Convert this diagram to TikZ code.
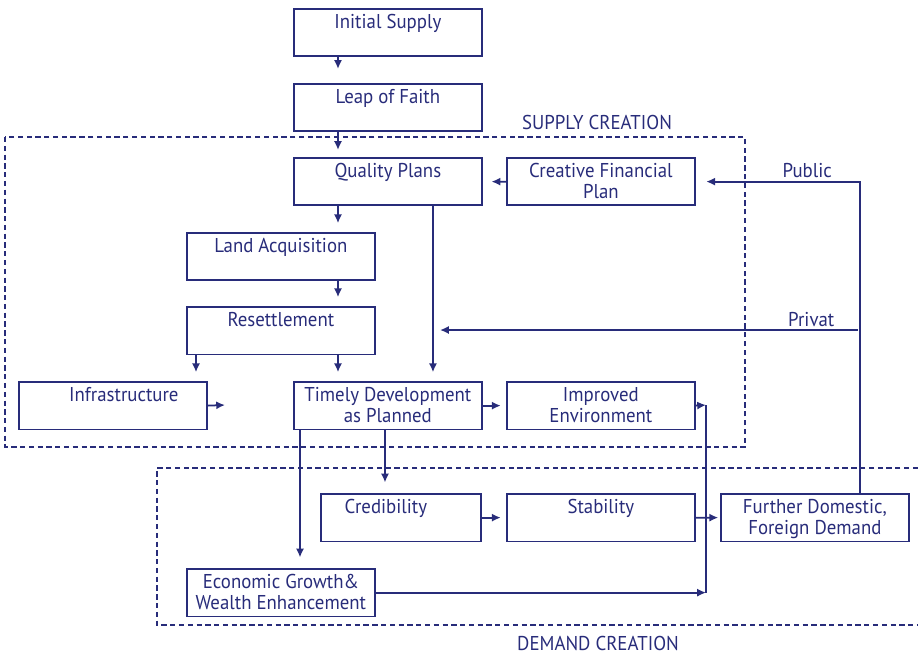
\documentclass[tikz,border=0pt]{standalone}
\usepackage{fontspec}
\setmainfont{PT Sans}[FakeStretch=0.94]
\usetikzlibrary{arrows.meta}
\definecolor{navy}{RGB}{40,44,122}

\begin{document}
\begin{tikzpicture}[x=0.02cm, y=-0.02cm, >={Latex[length=5pt,width=4.6pt]},
  every node/.style={font=\fontsize{11.4}{12}\selectfont, text=navy},
  box/.style={draw=navy, line width=1pt, anchor=north west, inner sep=0pt,
    minimum width=3.76cm, text height=0.4cm, text depth=0.55cm, align=center},
  box2/.style={box, text height=0.82cm, text depth=0.13cm},
  link/.style={->, draw=navy, line width=1pt},
  zone/.style={draw=navy, line width=0.8pt, dash pattern=on 3pt off 2pt}]
\useasboundingbox (0,0) rectangle (918,653);

% the two areas
\draw[zone] (5,137) rectangle (745,447);
\draw[zone] (918,468) -- (157,468) -- (157,625) -- (918,625);
\node (supplylbl) at (597,122) {SUPPLY CREATION};
\node (demandlbl) at (598,643) {DEMAND CREATION};

% boxes
\node[box] (init) at (293,8) {Initial Supply};
\node[box] (leap) at (293,83) {Leap of Faith};
\node[box] (qual) at (293,157) {Quality Plans};
\node[box2] (cfp) at (506,157) {Creative Financial\\Plan};
\node[box] (land) at (186,232) {Land Acquisition};
\node[box] (reset) at (186,306) {Resettlement};
\node[box] (infra) at (18,381) {\hspace*{0.44cm}Infrastructure};
\node[box2] (timely) at (293,381) {Timely Development\\as Planned};
\node[box2] (impr) at (506,381) {Improved\\Environment};
\node[box, minimum width=3.2cm] (cred) at (320,493) {Credibility\hspace*{0.6cm}};
\node[box] (stab) at (506,493) {Stability};
\node[box2] (fdd) at (720,493) {Further Domestic,\\Foreign Demand};
\node[box2] (econ) at (186,568) {Economic Growth\&\\Wealth Enhancement};

\coordinate (infraend) at (225,405);
\coordinate (qualdrop) at ([xshift=2.8cm]qual.south west);
\coordinate (bustop) at (706,405);
\coordinate (busbot) at (bustop |- econ.east);
\coordinate (split) at (858,330);

% supply side
\draw[link, shorten >=8pt] ([xshift=0.9cm]init.south west) -- ([xshift=0.9cm]leap.north west);
\draw[link, shorten >=4pt] ([xshift=0.9cm]leap.south west) -- ([xshift=0.9cm]qual.north west);
\draw[link, shorten >=5pt] ([xshift=0.9cm]qual.south west) -- ([xshift=0.9cm]qual.south west |- land.north);
\draw[link, shorten >=5pt] ([xshift=0.9cm]qual.south west |- land.south) -- ([xshift=0.9cm]qual.south west |- reset.north);
\draw[link, shorten >=5pt] ([xshift=0.2cm]reset.south west) -- ([xshift=0.2cm]reset.south west |- infra.north);
\draw[link, shorten >=5pt] ([xshift=0.9cm]qual.south west |- reset.south) -- ([xshift=0.9cm]qual.south west |- timely.north);
\draw[link, shorten >=5pt] (qualdrop) -- (qualdrop |- timely.north);
\draw[link, shorten >=5pt] (cfp.west) -- (qual.east);
\draw[link] (infra.east) -- (infraend);
\draw[link, shorten >=3pt] (timely.east) -- (impr.west);

% financing
\draw[link, shorten >=6pt] ([xshift=-1cm]fdd.north east) |- (cfp.east)
  node[pos=0.66, above, yshift=-0.06cm] {Public};
\draw[link, shorten >=4pt] (split) -- (split -| qualdrop)
  node[pos=0.11, above, yshift=-0.06cm] {Privat};

% demand side
\draw[link, shorten >=6pt] ([xshift=1.84cm]timely.south west) -- ([xshift=1.84cm]timely.south west |- cred.north);
\draw[link, shorten >=6pt] ([xshift=0.14cm]timely.south west) -- ([xshift=0.14cm]timely.south west |- econ.north);
\draw[link, shorten >=3pt] (cred.east) -- (stab.west);
\draw[link, shorten >=1pt] (stab.east) -- (fdd.west);
\draw[link] (impr.east) -- (bustop);
\draw[navy, line width=1pt] (bustop) -- (busbot);
\draw[link] (econ.east) -- (busbot);
\end{tikzpicture}
\end{document}
